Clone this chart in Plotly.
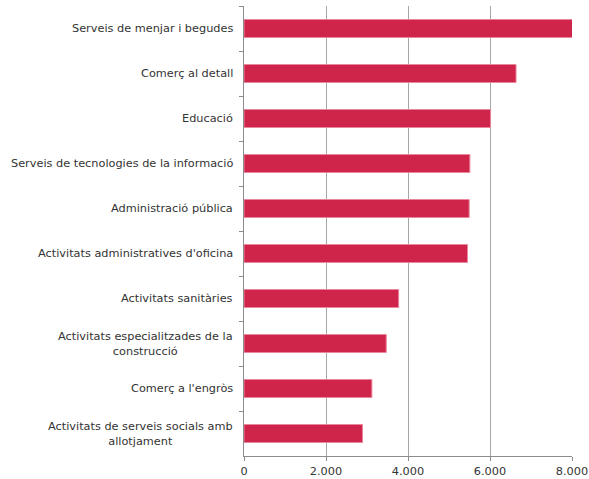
import plotly.graph_objects as go

categories = [
    "Serveis de menjar i begudes",
    "Comerç al detall",
    "Educació",
    "Serveis de tecnologies de la informació",
    "Administració pública",
    "Activitats administratives d'oficina",
    "Activitats sanitàries",
    "Activitats especialitzades de la<br>construcció",
    "Comerç a l'engròs",
    "Activitats de serveis socials amb<br>allotjament",
]
values = [8030, 6635, 6014, 5509, 5492, 5451, 3772, 3469, 3119, 2891]
xticks = [0, 2000, 4000, 6000, 8000]

FONT = "DejaVu Sans"
TXT = "#333333"

fig = go.Figure(go.Bar(
    y=categories, x=values, orientation="h",
    marker=dict(color="#D0254A", line=dict(color="#E9879C", width=1)),
    width=0.4,
))

for c in categories:
    fig.add_annotation(x=0, xref="paper", y=c, yref="y", text=c,
                       xanchor="right", align="center", showarrow=False,
                       xshift=-9, font=dict(family=FONT, size=11.3, color=TXT))

fig.update_layout(
    width=589, height=479,
    margin=dict(l=244, r=17, t=6, b=23, autoexpand=False),
    paper_bgcolor="white", plot_bgcolor="white",
    showlegend=False,
    separators=",.",
    font=dict(family=FONT, size=11, color=TXT),
)
fig.update_xaxes(range=[0, 8000], tickvals=xticks, tickformat=",d",
                 automargin=False,
                 showgrid=True, gridcolor="#a6a6a6", gridwidth=1,
                 showline=True, linecolor="#8c8c8c", linewidth=1,
                 ticks="outside", ticklen=4, tickcolor="#8c8c8c",
                 zeroline=False, tickfont=dict(family=FONT, size=11.3, color=TXT))
fig.update_yaxes(autorange="reversed", showticklabels=False, automargin=False,
                 showline=True, linecolor="#8c8c8c", linewidth=1,
                 ticks="outside", tickson="boundaries", ticklen=4,
                 tickcolor="#8c8c8c", showgrid=False)

fig.write_html("out.html", config={"displayModeBar": False},
               post_script="document.body.style.margin='0';document.body.style.overflow='hidden';")
